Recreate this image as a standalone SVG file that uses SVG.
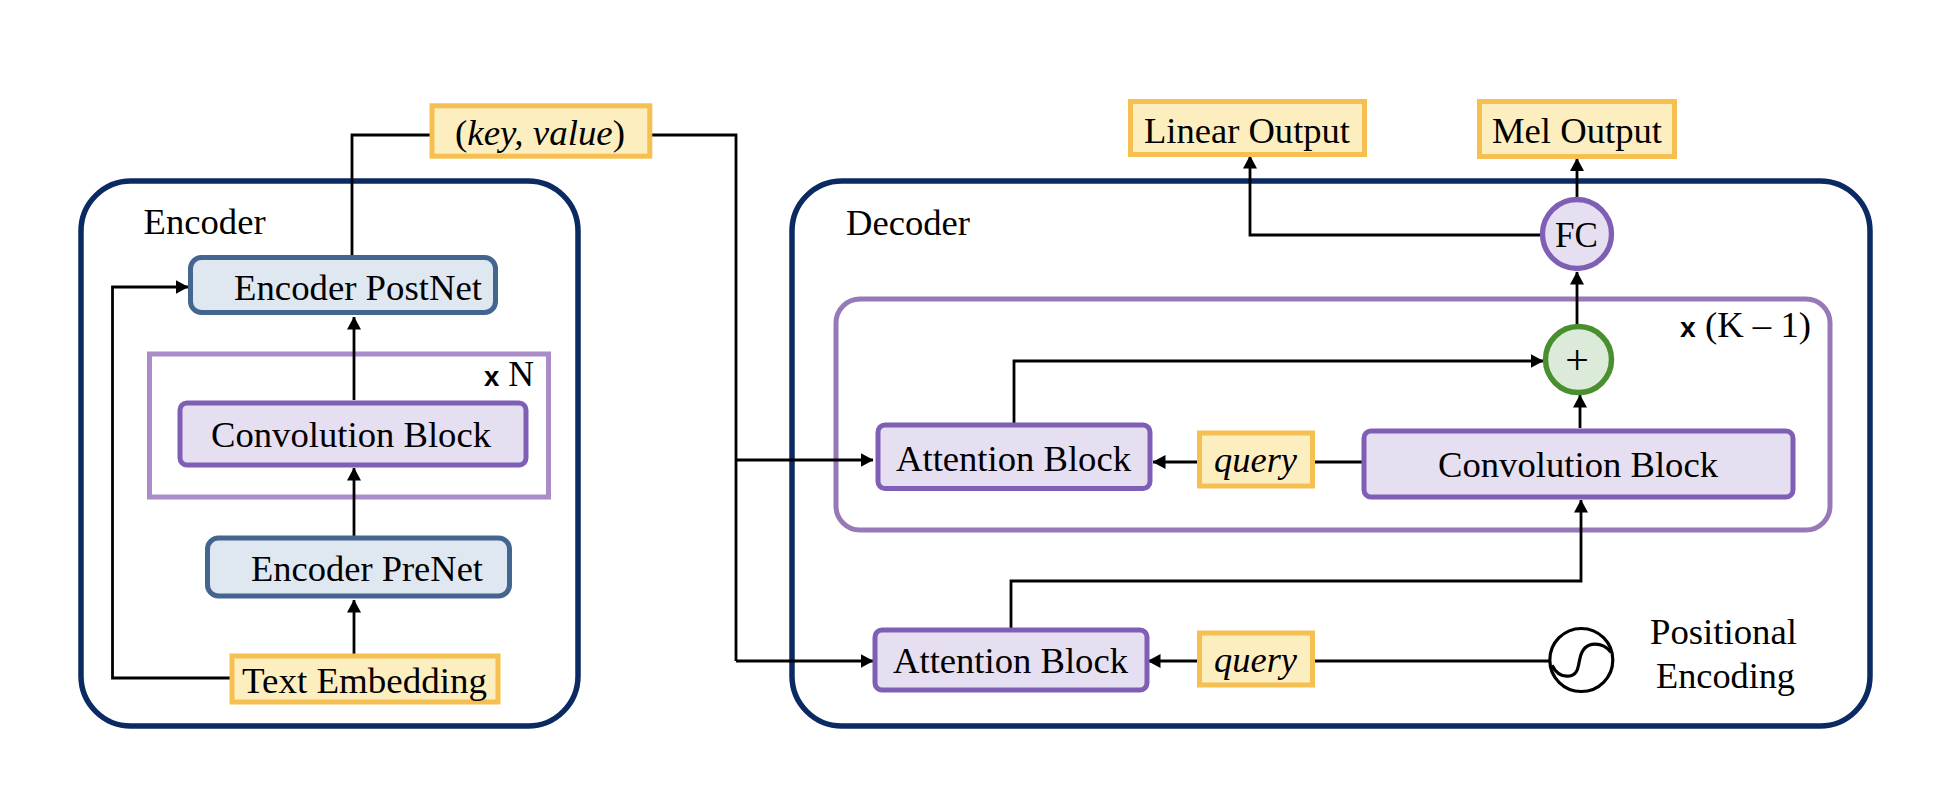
<svg xmlns="http://www.w3.org/2000/svg" width="1960" height="786" viewBox="0 0 1960 786">
<style>
text{font-family:"Liberation Serif","Times New Roman",serif;font-size:35px;fill:#000}
.it{font-style:italic}
.b{font-family:"Liberation Sans",Arial,sans-serif;font-weight:bold;font-size:27px}
.navy{fill:#fff;stroke:#0b2a63;stroke-width:5.5}
.blue{fill:#dfe7f1;stroke:#44658f;stroke-width:5}
.pur{fill:#e6def1;stroke:#7f5fb5;stroke-width:5}
.yel{fill:#fdeebf;stroke:#f6bf52;stroke-width:5}
.rep{fill:none;stroke:#aa8cc9;stroke-width:5}
.rep2{fill:none;stroke:#9779b5;stroke-width:5}
.con{fill:none;stroke:#000;stroke-width:2.8}
.arr{marker-end:url(#ah)}
</style>
<defs><marker id="ah" markerUnits="userSpaceOnUse" markerWidth="13" markerHeight="14" refX="12.5" refY="7" orient="auto"><path d="M0 0L13 7L0 14z" fill="#000"/></marker></defs>
<g id="encoder"><rect class="navy" x="81" y="181" width="497" height="545" rx="50"/><text x="143.600" y="234" textLength="122" lengthAdjust="spacingAndGlyphs">Encoder</text></g>
<g id="decoder"><rect class="navy" x="792" y="181" width="1078" height="545" rx="50"/><text x="846" y="235" textLength="124" lengthAdjust="spacingAndGlyphs">Decoder</text></g>
<g id="encoder-repeat"><rect class="rep" x="149.500" y="354" width="399" height="143"/><text x="484" y="386" textLength="50" lengthAdjust="spacingAndGlyphs"><tspan class="b">x</tspan> N</text></g>
<g id="decoder-repeat"><rect class="rep2" x="836" y="299" width="994" height="231" rx="24"/><text x="1680" y="337" textLength="131" lengthAdjust="spacingAndGlyphs"><tspan class="b">x</tspan> (K – 1)</text></g>
<g id="connectors">
<path class="con" d="M430 135H352V256"/>
<path class="con" d="M652 135H736V661"/>
<path class="con arr" d="M736 460H873"/>
<path class="con arr" d="M736 661H873"/>
<path class="con arr" d="M354 400V317"/>
<path class="con arr" d="M354 536V468"/>
<path class="con arr" d="M354 654V600"/>
<path class="con arr" d="M230 678H112.500V287H188"/>
<path class="con arr" d="M1197 462H1153"/>
<path class="con" d="M1315 462H1362"/>
<path class="con arr" d="M1014 423V361H1543"/>
<path class="con arr" d="M1011 629V581H1581V500"/>
<path class="con arr" d="M1580 428V395"/>
<path class="con arr" d="M1577 326V272"/>
<path class="con arr" d="M1577 197V158.500"/>
<path class="con arr" d="M1542 235H1250V156"/>
<path class="con arr" d="M1549 661H1148"/>
</g>
<g id="key-value"><rect class="yel" x="432" y="105.800" width="217.800" height="50.400"/><text x="455" y="145" textLength="170" lengthAdjust="spacingAndGlyphs">(<tspan class="it">key, value</tspan>)</text></g>
<g id="encoder-postnet"><rect class="blue" x="190.500" y="257.500" width="305" height="55" rx="11"/><text x="234" y="300" textLength="248" lengthAdjust="spacingAndGlyphs">Encoder PostNet</text></g>
<g id="encoder-conv"><rect class="pur" x="180" y="403" width="346" height="62" rx="7"/><text x="211" y="447" textLength="280" lengthAdjust="spacingAndGlyphs">Convolution Block</text></g>
<g id="encoder-prenet"><rect class="blue" x="207.500" y="538" width="302" height="58" rx="11"/><text x="251" y="581" textLength="232" lengthAdjust="spacingAndGlyphs">Encoder PreNet</text></g>
<g id="text-embedding"><rect class="yel" x="232" y="656" width="266" height="46"/><text x="242" y="693" textLength="245" lengthAdjust="spacingAndGlyphs">Text Embedding</text></g>
<g id="linear-output"><rect class="yel" x="1130.500" y="101.500" width="234" height="53"/><text x="1144" y="143" textLength="206" lengthAdjust="spacingAndGlyphs">Linear Output</text></g>
<g id="mel-output"><rect class="yel" x="1479.500" y="101.500" width="195" height="55"/><text x="1492" y="143" textLength="170" lengthAdjust="spacingAndGlyphs">Mel Output</text></g>
<g id="fc"><circle cx="1577" cy="234" r="34.500" fill="#e6def1" stroke="#7f5fb5" stroke-width="5.300"/><text x="1576.500" y="247" text-anchor="middle">FC</text></g>
<g id="plus"><circle cx="1578.500" cy="359.600" r="33" fill="#dcebd9" stroke="#4a8f2f" stroke-width="5.500"/><text x="1577" y="374" text-anchor="middle" style="font-size:42px">+</text></g>
<g id="attention-upper"><rect class="pur" x="878" y="425" width="272" height="63.500" rx="7"/><text x="896" y="471" textLength="235" lengthAdjust="spacingAndGlyphs">Attention Block</text></g>
<g id="query-upper"><rect class="yel" x="1199.500" y="433" width="113" height="53"/><text class="it" x="1214" y="472" textLength="83" lengthAdjust="spacingAndGlyphs">query</text></g>
<g id="decoder-conv"><rect class="pur" x="1364" y="431" width="429" height="66" rx="7"/><text x="1438" y="477" textLength="280" lengthAdjust="spacingAndGlyphs">Convolution Block</text></g>
<g id="attention-lower"><rect class="pur" x="875" y="630" width="272" height="60" rx="7"/><text x="893" y="673" textLength="235" lengthAdjust="spacingAndGlyphs">Attention Block</text></g>
<g id="query-lower"><rect class="yel" x="1199.500" y="633" width="113" height="52"/><text class="it" x="1214" y="672" textLength="83" lengthAdjust="spacingAndGlyphs">query</text></g>
<g id="positional-encoding"><g transform="translate(0 1.200)"><circle cx="1581.300" cy="658.800" r="31.500" fill="#fff" stroke="#000" stroke-width="3.200"/><path d="M1552 664C1556 672 1561 675 1567 675C1579 675 1578 664 1580 657C1582 648 1587 643 1595 643C1602 643 1607 646 1611 651" fill="none" stroke="#000" stroke-width="3.200"/></g><text x="1650" y="644" textLength="147" lengthAdjust="spacingAndGlyphs">Positional</text><text x="1656" y="688" textLength="139" lengthAdjust="spacingAndGlyphs">Encoding</text></g>
</svg>
